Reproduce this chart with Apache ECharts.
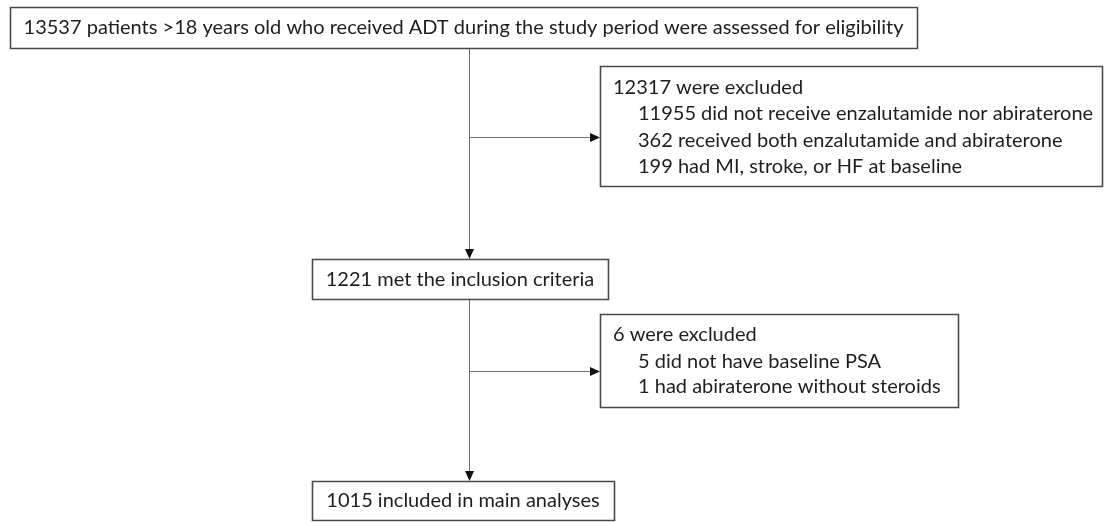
<!DOCTYPE html>
<html>
<head>
<meta charset="utf-8">
<script src="https://cdn.jsdelivr.net/npm/echarts@6/dist/echarts.min.js"></script>
<style>html,body{margin:0;padding:0;background:#fff}#c{width:1104px;height:522px}</style>
</head>
<body>
<div id="c"></div>
<script>
// ---- data ----
const mainSteps = [
  '13537 patients >18 years old who received ADT during the study period were assessed for eligibility',
  '1221 met the inclusion criteria',
  '1015 included in main analyses'
];
const exclusion1Title = '12317 were excluded';
const exclusion1Items = [
  '11955 did not receive enzalutamide nor abiraterone',
  '362 received both enzalutamide and abiraterone',
  '199 had MI, stroke, or HF at baseline'
];
const exclusion2Title = '6 were excluded';
const exclusion2Items = [
  '5 did not have baseline PSA',
  '1 had abiraterone without steroids'
];

// ---- layout ----
const FONT_FAMILY = 'Lato, "Open Sans", sans-serif';
const cv = document.createElement('canvas').getContext('2d');
cv.font = '18px ' + FONT_FAMILY;
const w18 = cv.measureText(mainSteps[0]).width;
const fontSize = Math.round(18 * 879 / w18 * 10) / 10;
const font = fontSize + 'px ' + FONT_FAMILY;

const boxStroke = '#4a4a4a';
const lineColor = '#6e6e6e';
const textColor = '#1e1e1e';
const spineX = 469.5;

const mainBoxes = [
  {x: 10, y: 7, w: 907, h: 41},
  {x: 312, y: 259, w: 296, h: 40},
  {x: 312, y: 481, w: 302, h: 39}
];
const exclBoxes = [
  {x: 600, y: 66, w: 502, h: 120, branchY: 137, lineYs: [88, 114, 141, 167]},
  {x: 600, y: 314, w: 358, h: 93, branchY: 371, lineYs: [335, 362, 387]}
];

const els = [];
function rect(b) {
  els.push({type: 'rect', shape: {x: b.x + 0.5, y: b.y + 0.5, width: b.w, height: b.h},
    style: {fill: '#fff', stroke: boxStroke, lineWidth: 1.6}, z: 10});
}
function line(x1, y1, x2, y2) {
  els.push({type: 'line', shape: {x1, y1, x2, y2}, style: {stroke: lineColor, lineWidth: 1}, z: 5});
}
function arrowDown(x, y) {
  els.push({type: 'polygon', shape: {points: [[x - 4.5, y - 10], [x + 4.5, y - 10], [x, y]]},
    style: {fill: '#111'}, z: 6});
}
function arrowRight(x, y) {
  els.push({type: 'polygon', shape: {points: [[x - 10, y - 4.5], [x - 10, y + 4.5], [x, y]]},
    style: {fill: '#111'}, z: 6});
}
function text(t, x, y, align) {
  els.push({type: 'text', x: x, y: y, z: 20,
    style: {text: t, font: font, fill: textColor, align: align, verticalAlign: 'middle',
      textAlign: align, textVerticalAlign: 'middle'}});
}

// connectors
line(spineX, mainBoxes[0].y + mainBoxes[0].h, spineX, mainBoxes[1].y - 9);
arrowDown(spineX, mainBoxes[1].y);
line(spineX, mainBoxes[1].y + mainBoxes[1].h, spineX, mainBoxes[2].y - 9);
arrowDown(spineX, mainBoxes[2].y);
exclBoxes.forEach(b => {
  line(spineX, b.branchY + 0.5, b.x - 9, b.branchY + 0.5);
  arrowRight(b.x, b.branchY + 0.5);
});

// boxes + text
mainBoxes.forEach((b, i) => {
  rect(b);
  text(mainSteps[i], b.x + b.w / 2, b.y + b.h / 2 + 0.5, 'center');
});
[[exclusion1Title, exclusion1Items], [exclusion2Title, exclusion2Items]].forEach(([title, items], i) => {
  const b = exclBoxes[i];
  rect(b);
  text(title, b.x + 13, b.lineYs[0], 'left');
  items.forEach((it, j) => text(it, b.x + 38, b.lineYs[j + 1], 'left'));
});

const chart = echarts.init(document.getElementById('c'), null, {renderer: 'canvas'});
chart.setOption({
  backgroundColor: '#fff',
  animation: false,
  graphic: {elements: els}
});
</script>
</body>
</html>
